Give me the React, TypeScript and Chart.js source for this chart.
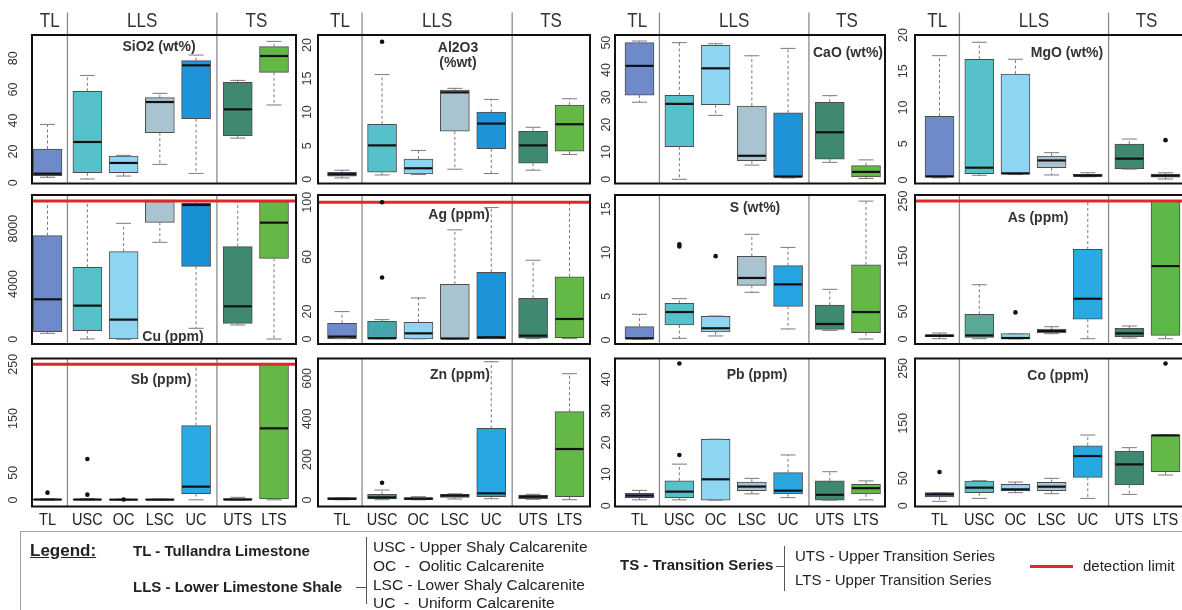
import React, { useEffect, useRef } from 'react';
import { Chart, registerables } from 'chart.js';

Chart.register(...registerables);

// ---------------- DATA ----------------
const CATEGORIES = ['TL', 'USC', 'OC', 'LSC', 'UC', 'UTS', 'LTS'];
const GROUPS = ['TL', 'LLS', 'TS'];

// five-number summaries per category: [min, q1, median, q3, max]
const SIO2 = [[3.5, 4.5, 5.8, 21.7, 37.5], [2.4, 6.4, 26.2, 58.8, 69], [4.3, 6.4, 12.7, 17.2, 17.6], [11.8, 32.2, 51.9, 54.7, 57.5], [6, 41.2, 75.5, 78.5, 82.1], [28.7, 30.2, 47.2, 64.6, 65.8], [50, 71, 81.5, 87.5, 90.9]];
const AL2O3 = [[0.2, 0.45, 0.75, 1.05, 1.35], [0.64, 1.04, 5.05, 8.2, 15.6], [0.7, 0.8, 1.64, 3.0, 4.3], [1.5, 7.15, 12.95, 13.3, 13.55], [0.85, 4.55, 8.3, 10.0, 11.9], [1.35, 2.4, 5.05, 7.15, 7.75], [3.7, 4.2, 8.2, 11.05, 12.0]];
const CAO = [[28.2, 30.8, 41.5, 50.0, 50.6], [0, 11.9, 27.6, 30.7, 50], [23.4, 27.3, 40.6, 49.0, 49.6], [5.2, 6.8, 8.6, 26.8, 45.2], [0.5, 0.8, 1.0, 24.3, 47.9], [6.2, 7.4, 17.2, 28.2, 30.6], [0.3, 0.84, 2.7, 5.0, 7.1]];
const MGO = [[0.3, 0.4, 0.5, 8.8, 17.15], [0.65, 0.87, 1.7, 16.65, 19.0], [0.75, 0.8, 0.92, 14.6, 16.65], [0.7, 1.7, 2.7, 3.3, 3.77], [0.45, 0.5, 0.6, 0.78, 1.0], [1.5, 1.56, 2.95, 4.97, 5.65], [0.14, 0.41, 0.6, 0.83, 1.0]];
const CU = [[434, 554, 2892, 7494, 10000], [24, 627, 2434, 5205, 10000], [0, 30, 1422, 6337, 8386], [7012, 8458, 10000, 10000, 10000], [795, 5277, 9711, 9831, 10000], [1036, 1157, 2386, 6699, 10000], [20, 5855, 8434, 9952, 10000]];
const AG = [[0.2, 0.25, 1.7, 11.5, 20], [0.2, 0.25, 0.5, 12.9, 14.1], [0.1, 0.1, 4.1, 12.2, 30], [0.05, 0.1, 0.3, 40, 79.8], [0.2, 0.25, 1.2, 48.8, 96.1], [0.25, 0.5, 2.4, 29.8, 57.6], [0.25, 1.0, 14.6, 45.4, 100]];
const S = [[0.1, 0.11, 0.19, 1.53, 2.94], [0.19, 1.72, 3.2, 4.2, 4.73], [0.46, 0.92, 1.34, 2.71, 2.75], [5.46, 6.26, 7.1, 9.58, 12.1], [1.26, 3.85, 6.37, 8.51, 10.6], [1.1, 1.22, 1.83, 4.0, 5.8], [0.11, 0.84, 3.2, 8.6, 15.9]];
const AS = [[0.6, 4.2, 6.0, 7.85, 10.9], [0.6, 3.0, 6.6, 44.7, 98.4], [0.3, 0.6, 1.8, 9.7, 9.7], [9.7, 10.9, 14.5, 18.1, 22.3], [0.6, 36.2, 73, 162.4, 250], [1.8, 4.2, 10.3, 19.3, 23.6], [0.6, 6.6, 132.2, 250, 250]];
const SB = [[0.1, 0.3, 0.8, 1.8, 2.5], [0.1, 0.3, 0.8, 1.8, 2.5], [0.1, 0.3, 0.6, 1.2, 1.5], [0.1, 0.3, 0.6, 1.5, 1.8], [0.3, 11.7, 24.6, 137, 250], [0, 0.2, 0.8, 2.5, 4.9], [0.3, 1.8, 132, 250, 250]];
const ZN = [[1, 2, 6, 11.5, 12], [1.6, 5, 13, 28, 49.3], [1, 1.6, 6.6, 11.5, 16.4], [4.9, 13.2, 21.4, 28, 31], [6.6, 16.4, 32.9, 353, 682], [3.3, 6.6, 16.4, 24.7, 28], [1.6, 16.4, 251.5, 435.6, 623]];
const PB = [[1.9, 2.6, 3.26, 4.0, 4.9], [1.9, 2.6, 4.5, 7.9, 13.2], [1.8, 1.8, 8.4, 21.05, 21.1], [3.8, 4.8, 6.1, 7.5, 8.7], [2.6, 3.8, 4.8, 10.5, 16.1], [1.8, 1.8, 3.5, 7.9, 10.8], [1.9, 3.8, 5.6, 6.8, 7.9]];
const CO = [[7.9, 15.8, 20.6, 23.7, 23.7], [13.3, 23.7, 32.8, 44.9, 45.5], [23.7, 26.7, 29.7, 38.8, 43], [21.8, 27.3, 34.6, 42.5, 49.8], [13.3, 51.6, 90.4, 109.2, 128.6], [20.6, 37.6, 75.2, 99.5, 105.6], [55.8, 61.9, 128, 128.6, 128.6]];

// outliers: [category index, value]
const SIO2_OUT: number[][] = [];
const AL2O3_OUT = [[1, 20.5]];
const CAO_OUT: number[][] = [];
const MGO_OUT = [[6, 5.5]];
const CU_OUT: number[][] = [];
const AG_OUT = [[1, 100], [1, 44.9]];
const S_OUT = [[1, 10.95], [1, 10.7], [2, 9.6]];
const AS_OUT = [[2, 48.3]];
const SB_OUT = [[0, 13.5], [1, 75.6], [1, 9.8], [2, 1.0]];
const ZN_OUT = [[1, 85.5]];
const PB_OUT = [[1, 45], [1, 16.1]];
const CO_OUT = [[0, 61.3], [6, 259]];

// y tick labels
const SIO2_TICKS = [0, 20, 40, 60, 80];
const AL2O3_TICKS = [0, 5, 10, 15, 20];
const CAO_TICKS = [0, 10, 20, 30, 40, 50];
const MGO_TICKS = [0, 5, 10, 15, 20];
const CU_TICKS = [0, 4000, 8000];
const AG_TICKS = [0, 20, 60, 100];
const S_TICKS = [0, 5, 10, 15];
const AS_TICKS = [0, 50, 150, 250];
const SB_TICKS = [0, 50, 150, 250];
const ZN_TICKS = [0, 200, 400, 600];
const PB_TICKS = [0, 10, 20, 30, 40];
const CO_TICKS = [0, 50, 150, 250];

// detection limits
const CU_LIMIT = 10000;
const AG_LIMIT = 100;
const AS_LIMIT = 250;
const SB_LIMIT = 250;

const LEGEND_GROUPS = ['TL - Tullandra Limestone', 'LLS - Lower Limestone Shale', 'TS - Transition Series'];
const LEGEND_LLS = ['USC - Upper Shaly Calcarenite', 'OC  -  Oolitic Calcarenite', 'LSC - Lower Shaly Calcarenite', 'UC  -  Uniform Calcarenite'];
const LEGEND_TS = ['UTS - Upper Transition Series', 'LTS - Upper Transition Series'];
const LEGEND_LIMIT = 'detection limit';

// ---------------- LAYOUT / STYLE ----------------
const FONT = '"Liberation Sans", Arial, Helvetica, sans-serif';
const X_POS = [1, 2.1, 3.1, 4.1, 5.1, 6.25, 7.25];
const DIVIDERS = [1.55, 5.675];
const BASE_COLORS = ['#6E8ACB', '#56C1CA', '#8ED5F2', '#A9C3D1', '#1E93D8', '#3F8872', '#64B946'];

const COLS = [
  { left: 32, right: 296, xmin: 0.572, xmax: 7.857, gap: 18 },
  { left: 318, right: 590, xmin: 0.34, xmax: 7.813, gap: 10 },
  { left: 615, right: 885, xmin: 0.324, xmax: 7.774, gap: 8 },
  { left: 915, right: 1184.5, xmin: 0.322, xmax: 7.775, gap: 11 },
];
const ROWS = [
  { top: 35, bottom: 183.5 },
  { top: 195, bottom: 344 },
  { top: 358.5, bottom: 506.5 },
];

type Panel = {
  id: string; col: number; row: number; stats: number[][]; out: number[][]; ticks: number[];
  ymin: number; ymax: number; title: string[]; tx: number; ty: number; limit: number | null;
  colors: Record<number, string>;
};

const PANELS: Panel[] = [
  { id: 'sio2', col: 0, row: 0, stats: SIO2, out: SIO2_OUT, ticks: SIO2_TICKS, ymin: -0.5, ymax: 95, title: ['SiO2 (wt%)'], tx: 127, ty: 12, limit: null, colors: {} },
  { id: 'al2o3', col: 1, row: 0, stats: AL2O3, out: AL2O3_OUT, ticks: AL2O3_TICKS, ymin: -0.63, ymax: 21.5, title: ['Al2O3', '(%wt)'], tx: 140, ty: 13, limit: null, colors: {} },
  { id: 'cao', col: 2, row: 0, stats: CAO, out: CAO_OUT, ticks: CAO_TICKS, ymin: -1.54, ymax: 52.8, title: ['CaO (wt%)'], tx: 233, ty: 18, limit: null, colors: {} },
  { id: 'mgo', col: 3, row: 0, stats: MGO, out: MGO_OUT, ticks: MGO_TICKS, ymin: -0.48, ymax: 20.0, title: ['MgO (wt%)'], tx: 152, ty: 18, limit: null, colors: { 4: '#1B91D4' } },
  { id: 'cu', col: 0, row: 1, stats: CU, out: CU_OUT, ticks: CU_TICKS, ymin: -340, ymax: 10434, title: ['Cu (ppm)'], tx: 141, ty: 142, limit: CU_LIMIT, colors: { 4: '#1890D4' } },
  { id: 'ag', col: 1, row: 1, stats: AG, out: AG_OUT, ticks: AG_TICKS, ymin: -3.7, ymax: 105.3, title: ['Ag (ppm)'], tx: 141, ty: 20, limit: AG_LIMIT, colors: { 1: '#46A6AD' } },
  { id: 's', col: 2, row: 1, stats: S, out: S_OUT, ticks: S_TICKS, ymin: -0.46, ymax: 16.6, title: ['S (wt%)'], tx: 140, ty: 13, limit: null, colors: { 4: '#24A4E2' } },
  { id: 'as', col: 3, row: 1, stats: AS, out: AS_OUT, ticks: AS_TICKS, ymin: -9, ymax: 261, title: ['As (ppm)'], tx: 123, ty: 23, limit: AS_LIMIT, colors: { 1: '#5AA996', 4: '#2AAAE3', 6: '#5CB847' } },
  { id: 'sb', col: 0, row: 2, stats: SB, out: SB_OUT, ticks: SB_TICKS, ymin: -12, ymax: 260.7, title: ['Sb (ppm)'], tx: 129, ty: 21.5, limit: SB_LIMIT, colors: { 4: '#2AAAE4' } },
  { id: 'zn', col: 1, row: 2, stats: ZN, out: ZN_OUT, ticks: ZN_TICKS, ymin: -32, ymax: 698, title: ['Zn (ppm)'], tx: 142, ty: 16.5, limit: null, colors: { 1: '#3D9696', 4: '#26A7E1' } },
  { id: 'pb', col: 2, row: 2, stats: PB, out: PB_OUT, ticks: PB_TICKS, ymin: -0.2, ymax: 46.6, title: ['Pb (ppm)'], tx: 142, ty: 16.5, limit: null, colors: { 4: '#2AA6E0' } },
  { id: 'co', col: 3, row: 2, stats: CO, out: CO_OUT, ticks: CO_TICKS, ymin: -1.5, ymax: 268, title: ['Co (ppm)'], tx: 143, ty: 17.5, limit: null, colors: { 4: '#26A9E2' } },
];

const PAD_L = 34, PAD_R = 6, PAD_T = 36, PAD_B = 28;

function scaledText(ctx: CanvasRenderingContext2D, t: string, x: number, y: number, sy: number) {
  ctx.save();
  ctx.translate(x, y);
  ctx.scale(1, sy);
  ctx.fillText(t, 0, 0);
  ctx.restore();
}

function makePlugin(p: Panel) {
  const col = COLS[p.col];
  return {
    id: 'boxDecor',
    beforeDatasetsDraw(chart: any) {
      const { ctx, chartArea: a } = chart;
      const x = chart.scales.x;
      ctx.save();
      ctx.strokeStyle = '#8a8a8a';
      ctx.lineWidth = 1.3;
      DIVIDERS.forEach((d) => {
        const px = x.getPixelForValue(d);
        ctx.beginPath();
        ctx.moveTo(px, p.row === 0 ? a.top - 22.5 : a.top);
        ctx.lineTo(px, a.bottom);
        ctx.stroke();
      });
      ctx.restore();
    },
    afterDatasetDraw(chart: any, args: any) {
      if (args.index !== 0) return; // after the box dataset, before outliers
      const { ctx, chartArea: a } = chart;
      const x = chart.scales.x;
      const y = chart.scales.y;
      ctx.save();
      p.stats.forEach((s, i) => {
        const cx = x.getPixelForValue(X_POS[i]);
        const [mn, q1, md, q3, mx] = s.map((v) => y.getPixelForValue(v));
        ctx.strokeStyle = '#7a7a7a';
        ctx.lineWidth = 1;
        ctx.setLineDash([3, 2.5]);
        ctx.beginPath();
        ctx.moveTo(cx, q3); ctx.lineTo(cx, mx);
        ctx.moveTo(cx, q1); ctx.lineTo(cx, mn);
        ctx.stroke();
        ctx.setLineDash([]);
        ctx.beginPath();
        ctx.moveTo(cx - 7.5, mx); ctx.lineTo(cx + 7.5, mx);
        ctx.moveTo(cx - 7.5, mn); ctx.lineTo(cx + 7.5, mn);
        ctx.stroke();
        ctx.strokeStyle = '#111';
        ctx.lineWidth = 2.2;
        ctx.beginPath();
        ctx.moveTo(cx - 14, md); ctx.lineTo(cx + 14, md);
        ctx.stroke();
      });
      if (p.limit !== null) {
        const ly = y.getPixelForValue(p.limit);
        ctx.strokeStyle = '#E3262A';
        ctx.lineWidth = 3;
        ctx.beginPath();
        ctx.moveTo(a.left, ly); ctx.lineTo(a.right, ly);
        ctx.stroke();
      }
      ctx.restore();
    },
    afterDatasetsDraw(chart: any) {
      const { ctx, chartArea: a } = chart;
      const x = chart.scales.x;
      const y = chart.scales.y;
      ctx.save();
      // frame
      ctx.strokeStyle = '#111';
      ctx.lineWidth = 2;
      ctx.strokeRect(a.left, a.top, a.right - a.left, a.bottom - a.top);
      // title
      ctx.fillStyle = '#333';
      ctx.font = `bold 14px ${FONT}`;
      ctx.textAlign = 'center';
      ctx.textBaseline = 'middle';
      p.title.forEach((t, k) => scaledText(ctx, t, a.left + p.tx, a.top + p.ty + k * 15, 1.1));
      // y tick labels (rotated)
      ctx.font = `12.5px ${FONT}`;
      ctx.fillStyle = '#333';
      p.ticks.forEach((v) => {
        const py = y.getPixelForValue(v);
        ctx.save();
        ctx.translate(a.left - col.gap, py);
        ctx.rotate(-Math.PI / 2);
        ctx.fillText(String(v), 0, 0);
        ctx.restore();
      });
      // header groups
      if (p.row === 0) {
        const d1 = x.getPixelForValue(DIVIDERS[0]);
        const d2 = x.getPixelForValue(DIVIDERS[1]);
        const centers = [(a.left + d1) / 2, (d1 + d2) / 2, (d2 + a.right) / 2];
        ctx.font = `17px ${FONT}`;
        ctx.fillStyle = '#333';
        GROUPS.forEach((g, k) => scaledText(ctx, g, centers[k], a.top - 13, 1.15));
      }
      // category labels
      if (p.row === 2) {
        ctx.font = `14.5px ${FONT}`;
        ctx.fillStyle = '#222';
        CATEGORIES.forEach((c, i) => scaledText(ctx, c, x.getPixelForValue(X_POS[i]), a.bottom + 13.5, 1.2));
      }
      ctx.restore();
    },
  };
}

function PanelChart({ p }: { p: Panel }) {
  const ref = useRef<HTMLCanvasElement>(null);
  const col = COLS[p.col];
  const row = ROWS[p.row];
  const left = Math.floor(col.left - PAD_L);
  const top = Math.floor(row.top - PAD_T);
  const right = Math.ceil(col.right + PAD_R);
  const bottom = Math.ceil(row.bottom + PAD_B);
  const w = right - left;
  const h = bottom - top;

  useEffect(() => {
    if (!ref.current) return;
    const colors = BASE_COLORS.map((c, i) => p.colors[i] || c);
    const chart = new Chart(ref.current, {
      type: 'bar',
      data: {
        datasets: [
          {
            type: 'bar',
            data: p.stats.map((s, i) => ({ x: X_POS[i], y: [s[1], s[3]] })) as any,
            backgroundColor: colors,
            borderColor: '#4d4d4d',
            borderWidth: 1,
            borderSkipped: false,
            barThickness: 29,
            order: 2,
          } as any,
          {
            type: 'scatter',
            data: p.out.map(([i, v]) => ({ x: X_POS[i], y: v })),
            pointRadius: 2.3,
            pointBackgroundColor: '#111',
            pointBorderWidth: 0,
            showLine: false,
            order: 1,
          } as any,
        ],
      },
      options: {
        animation: false,
        responsive: false,
        maintainAspectRatio: false,
        devicePixelRatio: 1,
        events: [],
        layout: {
          padding: {
            left: col.left - left,
            right: right - col.right,
            top: row.top - top,
            bottom: bottom - row.bottom,
          },
        },
        plugins: { legend: { display: false }, tooltip: { enabled: false }, title: { display: false } },
        scales: {
          x: { type: 'linear', min: col.xmin, max: col.xmax, display: false, offset: false },
          y: { type: 'linear', min: p.ymin, max: p.ymax, display: false },
        },
      } as any,
      plugins: [makePlugin(p) as any],
    });
    return () => chart.destroy();
  }, []);

  return (
    <canvas
      ref={ref}
      width={w}
      height={h}
      style={{ position: 'absolute', left, top, width: w, height: h }}
    />
  );
}

function Txt({ x, cy, text, size = 15, bold = false, underline = false }: any) {
  return (
    <div
      style={{
        position: 'absolute', left: x, top: cy - 10, height: 20, lineHeight: '20px',
        fontSize: size, fontWeight: bold ? 'bold' : 'normal', whiteSpace: 'pre',
        textDecoration: underline ? 'underline' : 'none', color: '#222', fontFamily: FONT,
      }}
    >
      {text}
    </div>
  );
}

function Line({ x, y, w, h, color = '#555' }: any) {
  return <div style={{ position: 'absolute', left: x, top: y, width: w, height: h, background: color }} />;
}

function Legend() {
  const llsY = [547, 566, 585, 603];
  const tsY = [556, 580];
  return (
    <>
      <div style={{ position: 'absolute', left: 20, top: 531, width: 1180, height: 100, border: '1px solid #a0a0a0', boxSizing: 'border-box' }} />
      <Txt x={30} cy={551} text="Legend:" size={17} bold underline />
      <Txt x={133} cy={551} text={LEGEND_GROUPS[0]} bold />
      <Txt x={133} cy={587} text={LEGEND_GROUPS[1]} bold />
      <Line x={356} y={587} w={10} h={1} />
      <Line x={366} y={537} w={1} h={67} />
      {LEGEND_LLS.map((t, i) => <Txt key={t} x={373} cy={llsY[i]} text={t} size={15.5} />)}
      <Txt x={620} cy={565} text={LEGEND_GROUPS[2]} bold />
      <Line x={776} y={566} w={8} h={1} />
      <Line x={784} y={546} w={1} h={45} />
      {LEGEND_TS.map((t, i) => <Txt key={t} x={795} cy={tsY[i]} text={t} size={15} />)}
      <Line x={1030} y={565} w={43} h={3} color="#E3262A" />
      <Txt x={1083} cy={566} text={LEGEND_LIMIT} size={15} />
    </>
  );
}

export default function App() {
  return (
    <div style={{ position: 'absolute', left: 0, top: 0, width: 1182, height: 610, overflow: 'hidden', background: '#fff', fontFamily: FONT }}>
      {PANELS.map((p) => <PanelChart key={p.id} p={p} />)}
      <Legend />
    </div>
  );
}
